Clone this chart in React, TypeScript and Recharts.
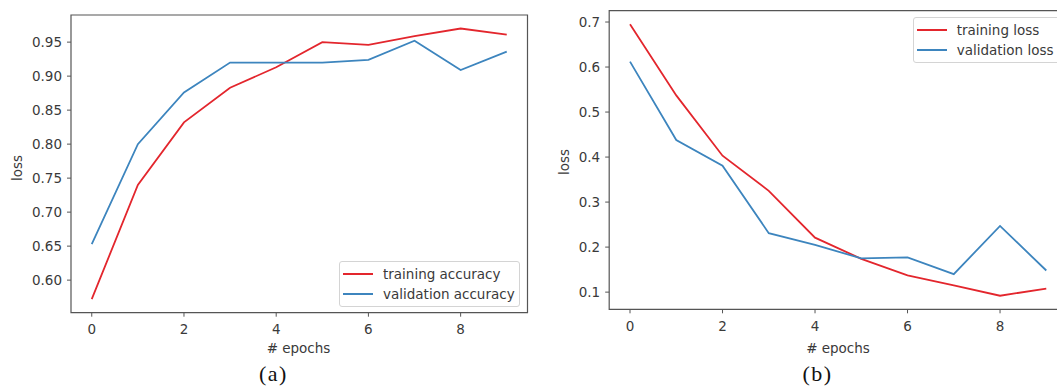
import React from 'react';
import { LineChart, Line, XAxis, YAxis, ReferenceArea, Legend } from 'recharts';

const epochs = [0, 1, 2, 3, 4, 5, 6, 7, 8, 9];
const xTicks = [0, 2, 4, 6, 8];

const trainAcc = [0.572, 0.740, 0.832, 0.883, 0.913, 0.950, 0.946, 0.959, 0.970, 0.961];
const valAcc = [0.653, 0.800, 0.876, 0.920, 0.920, 0.920, 0.924, 0.952, 0.909, 0.936];
const accTicks = [0.6, 0.65, 0.7, 0.75, 0.8, 0.85, 0.9, 0.95];

const trainLoss = [0.695, 0.537, 0.403, 0.325, 0.221, 0.174, 0.137, 0.115, 0.092, 0.108];
const valLoss = [0.612, 0.438, 0.381, 0.231, 0.205, 0.175, 0.177, 0.140, 0.247, 0.148];
const lossTicks = [0.1, 0.2, 0.3, 0.4, 0.5, 0.6, 0.7];

const RED = '#e3262d';
const BLUE = '#3d85be';
const INK = '#3a3a3a';
const FRAME = '#555';
const FONT = '"DejaVu Sans", sans-serif';
const FS = 13.5;

// matplotlib style 5% padding
const pad = (a: number[], b: number[]): [number, number] => {
  const all = [...a, ...b];
  const lo = Math.min(...all);
  const hi = Math.max(...all);
  const m = (hi - lo) * 0.05;
  return [lo - m, hi + m];
};
const xDomain: [number, number] = [-0.45, 9.45];

const LegendBox = ({ payload }: any) => (
  <div
    style={{
      border: '1px solid #d4d4d4',
      borderRadius: 3,
      background: 'rgba(255,255,255,0.85)',
      padding: '2px 3px',
      fontFamily: FONT,
      fontSize: FS,
      color: INK,
      boxSizing: 'border-box',
    }}
  >
    {(payload || []).map((p: any) => (
      <div key={p.value} style={{ display: 'flex', alignItems: 'center', height: 20, whiteSpace: 'nowrap' }}>
        <span style={{ display: 'inline-block', width: 30, height: 2, background: p.color, marginRight: 10 }} />
        <span>{p.value}</span>
      </div>
    ))}
  </div>
);

interface PanelProps {
  data: any[];
  names: [string, string];
  ticks: number[];
  digits: number;
  domain: [number, number];
  margin: { top: number; right: number; left: number; bottom: number };
  yWidth: number;
  xHeight: number;
  legendPos: { left: number; top: number; width: number };
}

const Panel: React.FC<PanelProps> = ({ data, names, ticks, digits, domain, margin, yWidth, xHeight, legendPos }) => (
  <LineChart width={540} height={388} data={data} margin={margin}>
    <XAxis
      dataKey="epoch"
      type="number"
      domain={xDomain}
      ticks={xTicks}
      interval={0}
      allowDataOverflow
      height={xHeight}
      axisLine={false}
      tickSize={4}
      tickMargin={8}
      tickLine={{ stroke: FRAME }}
      tick={{ fill: INK, fontSize: FS, fontFamily: FONT }}
    />
    <YAxis
      type="number"
      domain={domain}
      ticks={ticks}
      interval={0}
      allowDataOverflow
      width={yWidth}
      axisLine={false}
      tickSize={4}
      tickMargin={5}
      tickLine={{ stroke: FRAME }}
      tick={{ fill: INK, fontSize: FS, fontFamily: FONT }}
      tickFormatter={(v: number) => v.toFixed(digits)}
    />
    <ReferenceArea x1={xDomain[0]} x2={xDomain[1]} y1={domain[0]} y2={domain[1]} fill="none" stroke={FRAME} strokeWidth={1.2} ifOverflow="visible" />
    <Line type="linear" dataKey="train" name={names[0]} stroke={RED} strokeWidth={1.8} dot={false} isAnimationActive={false} />
    <Line type="linear" dataKey="val" name={names[1]} stroke={BLUE} strokeWidth={1.8} dot={false} isAnimationActive={false} />
    <Legend
      layout="vertical"
      align="center"
      verticalAlign="middle"
      content={<LegendBox />}
      wrapperStyle={{ left: legendPos.left, top: legendPos.top, width: legendPos.width }}
    />
  </LineChart>
);

export default function App() {
  const accData = epochs.map((e, i) => ({ epoch: e, train: trainAcc[i], val: valAcc[i] }));
  const lossData = epochs.map((e, i) => ({ epoch: e, train: trainLoss[i], val: valLoss[i] }));

  return (
    <div style={{ position: 'absolute', left: 0, top: 0, width: 1057, height: 388, overflow: 'hidden', background: '#fff' }}>
      <div style={{ position: 'absolute', left: 0, top: 0 }}>
        <Panel
          data={accData}
          names={['training accuracy', 'validation accuracy']}
          ticks={accTicks}
          digits={2}
          domain={pad(trainAcc, valAcc)}
          margin={{ top: 15, right: 12.5, left: 0, bottom: 0 }}
          yWidth={71}
          xHeight={75.3}
          legendPos={{ left: 339, top: 261, width: 181 }}
        />
      </div>
      <div style={{ position: 'absolute', left: 540, top: 0 }}>
        <Panel
          data={lossData}
          names={['training loss', 'validation loss']}
          ticks={lossTicks}
          digits={1}
          domain={pad(trainLoss, valLoss)}
          margin={{ top: 10.7, right: 12.9, left: 0, bottom: 0 }}
          yWidth={69.2}
          xHeight={78.7}
          legendPos={{ left: 372.7, top: 17.3, width: 148 }}
        />
      </div>
      <svg width={1057} height={388} style={{ position: 'absolute', left: 0, top: 0, pointerEvents: 'none' }}>
        <g fontFamily={FONT} fontSize={FS} fill={INK}>
          <text x={21.5} y={168} textAnchor="middle" transform="rotate(-90 21.5 168)">loss</text>
          <text x={569.3} y={162} textAnchor="middle" transform="rotate(-90 569.3 162)">loss</text>
          <text x={298.5} y={352.8} textAnchor="middle"># epochs</text>
          <text x={838} y={352.8} textAnchor="middle"># epochs</text>
        </g>
        <g fontFamily='"Liberation Serif", "Times New Roman", serif' fontSize={22} fill="#111">
          <text x={273.5} y={381} textAnchor="middle" letterSpacing={1.5}>(a)</text>
          <text x={817.5} y={381} textAnchor="middle" letterSpacing={1.5}>(b)</text>
        </g>
      </svg>
    </div>
  );
}
